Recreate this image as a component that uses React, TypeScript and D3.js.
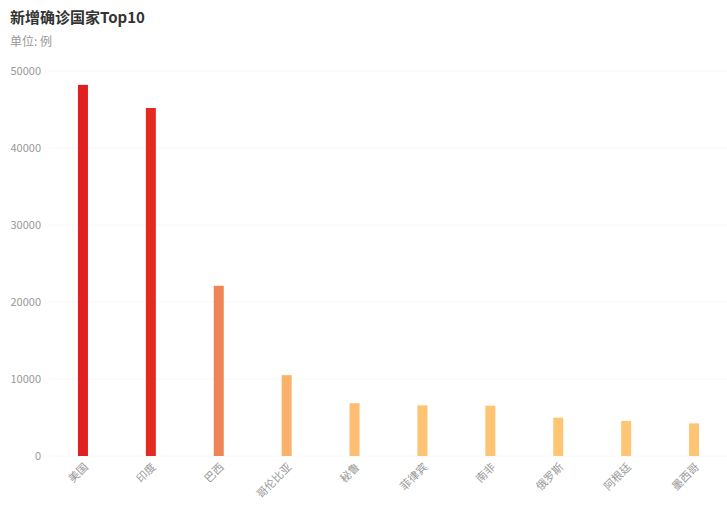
import React from "react";
import * as d3 from "d3";

const countries = ["美国", "印度", "巴西", "哥伦比亚", "秘鲁", "菲律宾", "南非", "俄罗斯", "阿根廷", "墨西哥"];
const newCases = [48200, 45200, 22100, 10500, 6850, 6580, 6530, 4980, 4550, 4240];
const barColors = ["#e02020", "#e22c22", "#ef8556", "#f9b26c", "#fdbd72", "#fec373", "#fec373", "#fec573", "#fec573", "#fec674"];
const yTicks = [0, 10000, 20000, 30000, 40000, 50000];

const W = 727;
const H = 512;
const plotLeft = 49;
const plotRight = 728;
const plotTop = 71;
const plotBottom = 456;
const font = "'Microsoft YaHei', 'Noto Sans CJK SC', 'Noto Sans', sans-serif";

export default function App() {
  const x = d3.scaleBand<string>().domain(countries).range([plotLeft, plotRight]).paddingInner(0).paddingOuter(0);
  const y = d3.scaleLinear().domain([0, 50000]).range([plotBottom, plotTop]);
  const barW = 10;

  return (
    <svg width={W} height={H} style={{ position: "absolute", left: 0, top: 0, fontFamily: font }}>
      <text x={10} y={23} fontSize={15} fontWeight="bold" fill="#333">新增确诊国家Top10</text>
      <text x={10} y={46} fontSize={12} fill="#999">单位: 例</text>

      {yTicks.map((t) => (
        <g key={t}>
          <line x1={plotLeft} x2={W} y1={y(t)} y2={y(t)} stroke="#faf6f6" strokeWidth={1} />
          <text x={41} y={y(t)} dy="0.35em" textAnchor="end" fontSize={11} fill="#999">{t}</text>
        </g>
      ))}

      {countries.map((c, i) => {
        const cx = (x(c) ?? 0) + x.bandwidth() / 2;
        return (
          <rect
            key={c}
            x={cx - barW / 2}
            y={y(newCases[i])}
            width={barW}
            height={plotBottom - y(newCases[i])}
            fill={barColors[i]}
          />
        );
      })}

      {countries.map((c) => {
        const cx = (x(c) ?? 0) + x.bandwidth() / 2;
        return (
          <text
            key={c}
            transform={`translate(${cx + 3},${plotBottom + 9}) rotate(-45)`}
            textAnchor="end"
            dy="0.35em"
            fontSize={11}
            fill="#999"
          >
            {c}
          </text>
        );
      })}
    </svg>
  );
}
